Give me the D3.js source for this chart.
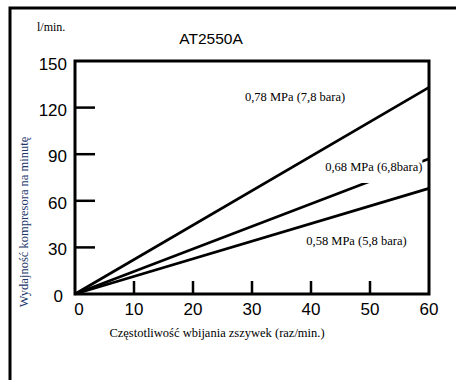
<!DOCTYPE html>
<html>
<head>
<meta charset="utf-8">
<script src="https://cdn.jsdelivr.net/npm/d3@7"></script>
<style>
  body { margin: 0; background: #fff; }
  svg { display: block; }
  .serif { font-family: 'Liberation Serif', 'Times New Roman', serif; }
  .sans { font-family: 'Liberation Sans', Arial, sans-serif; }
</style>
</head>
<body>
<svg id="chart" width="456" height="380"></svg>
<script>
(function() {
    var width = 456, height = 380

    // data
    const pressures = ["0,78 MPa (7,8 bara)", "0,68 MPa (6,8bara)", "0,58 MPa (5,8 bara)"];
    const rateAt0 = [0, 0, 0];
    const rateAt60 = [133, 87, 68];
    const xTicks = [0, 10, 20, 30, 40, 50, 60];
    const yTicks = [0, 30, 60, 90, 120, 150];
    // label anchors in data units
    const labelX = [28.8, 42.4, 39.2];
    const labelY = [124.2, 79.2, 31.5];

    const margin = {left: 75, top: 61, right: 27, bottom: 86};

    const x = d3.scaleLinear().domain([0, 60]).range([margin.left, width - margin.right]);
    const y = d3.scaleLinear().domain([0, 150]).range([height - margin.bottom, margin.top]);

    const svg = d3.select("#chart");

    // outer frame (left + top edges visible)
    svg.append("path")
        .attr("d", "M10,380 V8 H456")
        .attr("fill", "none")
        .attr("stroke", "black")
        .attr("stroke-width", 3);

    svg.append("text")
        .attr("class", "serif")
        .attr("x", 37).attr("y", 31)
        .attr("font-size", 12)
        .text("l/min.");

    svg.append("text")
        .attr("class", "sans")
        .attr("x", 211).attr("y", 44)
        .attr("text-anchor", "middle")
        .attr("font-size", 15.5)
        .text("AT2550A");

    const series = pressures.map((p, i) => ({name: p, values: [[0, rateAt0[i]], [60, rateAt60[i]]]}));

    const line = d3.line().x(d => x(d[0])).y(d => y(d[1]));

    svg.append("g")
        .selectAll("path")
        .data(series)
        .join("path")
        .attr("d", d => line(d.values))
        .attr("fill", "none")
        .attr("stroke", "black")
        .attr("stroke-width", 2.7);

    // ticks, drawn inward
    svg.append("g")
        .selectAll("line")
        .data(yTicks.slice(1, -1))
        .join("line")
        .attr("x1", x(0)).attr("x2", x(0) + 20)
        .attr("y1", d => y(d)).attr("y2", d => y(d))
        .attr("stroke", "black").attr("stroke-width", 2.5);

    svg.append("g")
        .selectAll("line")
        .data(xTicks.slice(1, -1))
        .join("line")
        .attr("x1", d => x(d)).attr("x2", d => x(d))
        .attr("y1", y(0)).attr("y2", y(0) - 13)
        .attr("stroke", "black").attr("stroke-width", 2.5);

    // plot frame
    svg.append("rect")
        .attr("x", x(0)).attr("y", y(150))
        .attr("width", x(60) - x(0)).attr("height", y(0) - y(150))
        .attr("fill", "none")
        .attr("stroke", "black")
        .attr("stroke-width", 3);

    svg.append("g")
        .selectAll("text")
        .data(yTicks)
        .join("text")
        .attr("class", "sans")
        .attr("x", d => d == 0 ? 63 : 67)
        .attr("y", d => d == 150 ? y(d) + 3 : y(d) + 2)
        .attr("dy", "0.35em")
        .attr("text-anchor", "end")
        .attr("font-size", 17)
        .text(d => d);

    svg.append("g")
        .selectAll("text")
        .data(xTicks)
        .join("text")
        .attr("class", "sans")
        .attr("x", d => d == 0 ? x(d) + 4 : x(d))
        .attr("y", y(0) + 15)
        .attr("dy", "0.35em")
        .attr("text-anchor", "middle")
        .attr("font-size", 17)
        .text(d => d);

    // series labels, white box behind hides the tail of the middle line
    const labels = svg.append("g")
        .selectAll("g")
        .data(series)
        .join("g");

    labels.append("text")
        .attr("class", "serif")
        .attr("x", (d, i) => x(labelX[i]))
        .attr("y", (d, i) => y(labelY[i]))
        .attr("font-size", 12.5)
        .text(d => d.name);

    labels.each(function(d, i) {
        const g = d3.select(this);
        const b = g.select("text").node().getBBox();
        g.insert("rect", "text")
            .attr("x", b.x - 2).attr("y", b.y - 1)
            .attr("width", b.width + 2)
            .attr("height", b.height + (i == 1 ? 10 : 1))
            .attr("fill", "white");
    });

    svg.append("text")
        .attr("class", "serif")
        .attr("transform", "translate(28,222) rotate(-90)")
        .attr("text-anchor", "middle")
        .attr("font-size", 12.5)
        .attr("fill", "#23366b")
        .text("Wydajność kompresora na minutę");

    svg.append("text")
        .attr("class", "serif")
        .attr("x", 217).attr("y", 337)
        .attr("text-anchor", "middle")
        .attr("font-size", 12.5)
        .text("Częstotliwość wbijania zszywek (raz/min.)");
})()
</script>
</body>
</html>
